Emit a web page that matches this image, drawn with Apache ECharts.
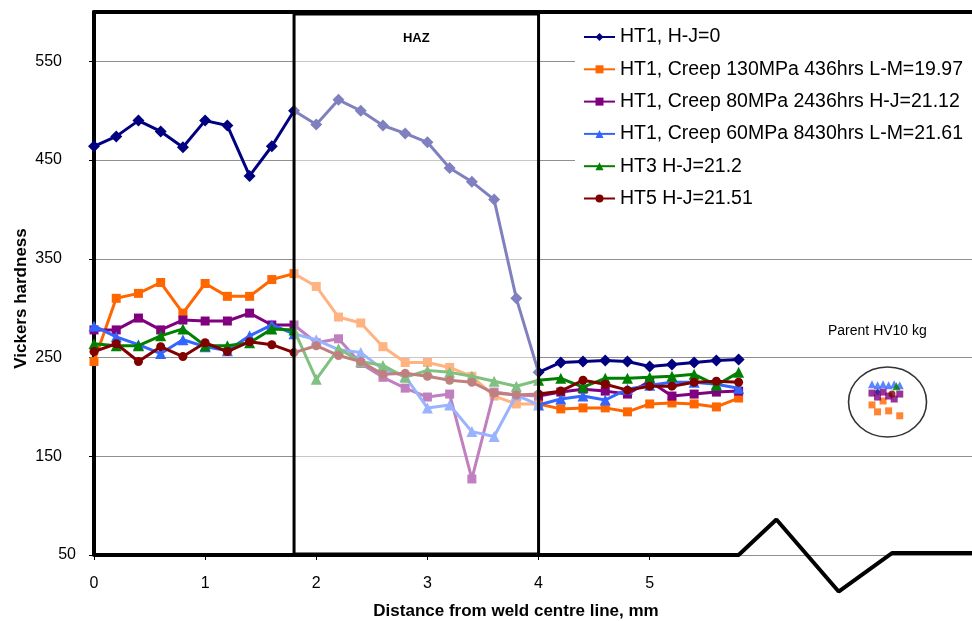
<!DOCTYPE html>
<html>
<head>
<meta charset="utf-8">
<script src="https://cdn.jsdelivr.net/npm/echarts@6/dist/echarts.min.js"></script>
<style>html,body{margin:0;padding:0;background:#fff;}#chart{width:972px;height:621px;}</style>
</head>
<body>
<div id="chart"></div>
<script>
// ---- data ----
const distance = [0,0.2,0.4,0.6,0.8,1,1.2,1.4,1.6,1.8,2,2.2,2.4,2.6,2.8,3,3.2,3.4,3.6,3.8,4,4.2,4.4,4.6,4.8,5,5.2,5.4,5.6,5.8];
const seriesNames = ['HT1, H-J=0','HT1, Creep 130MPa 436hrs L-M=19.97','HT1, Creep 80MPa 2436hrs H-J=21.12','HT1, Creep 60MPa 8430hrs L-M=21.61','HT3 H-J=21.2','HT5 H-J=21.51'];
const ht1_HJ0   = [464,474,490,479,463,490,485,434,464,500, 486,511,500,485,477,468,442,428,410,310, 235,245,246,247,246,241,243,245,247,248];
const ht1_130   = [246,310,315,326,295,325,312,312,329,335, 322,291,285,261,245,245,240,231,211,203, 203,198,199,199,195,203,204,203,200,209];
const ht1_80    = [278,278,290,278,288,287,287,295,283,283, 265,269,244,230,219,210,213,127,215,212, 211,215,218,216,213,226,211,213,215,216];
const ht1_60    = [282,271,263,254,268,261,257,272,283,274, 268,258,255,238,231,199,202,175,170,212, 202,208,211,207,218,222,225,225,223,219];
const ht3       = [264,262,262,272,279,262,262,265,279,278, 228,259,246,242,230,237,235,231,226,221, 227,229,220,229,229,230,231,233,222,235];
const ht5       = [256,264,246,261,251,265,256,266,263,255, 262,252,246,233,234,231,227,225,214,212, 213,216,227,223,217,221,221,225,226,225];
// parent metal readings (cluster on the right)
const parentX_HJ0 = [7.05];           const parent_HJ0 = [215];
const parentX_130 = [7.0,7.05,7.1,7.15,7.25]; const parent_130 = [202,195,206,196,191];
const parentX_80  = [7.0,7.05,7.1,7.15,7.2,7.25]; const parent_80 = [214,210,215,211,208,213];
const parentX_60  = [7.0,7.05,7.1,7.15,7.2,7.25]; const parent_60 = [223,222,223,222,223,222];
const parentX_ht3 = [7.22];           const parent_ht3 = [221];
const parentX_ht5 = [7.18];           const parent_ht5 = [213];
// annotations
const hazRange = [1.8, 4.0];
const hazVert = [51, 598];
const xTickValues = [0,1,2,3,4,5];
const yTickValues = [50,150,250,350,450,550];
const axisBreakPath = [[0,50],[5.8,50],[6.14,86],[6.7,13],[7.18,52],[7.9,52]];
const parentCircleCentre = [7.14, 205];

// ---- styles ----
const colors = ['#000080','#FF6600','#800080','#3366FF','#008000','#800000'];
const symbols = ['diamond','rect','rect','triangle','triangle','circle'];
const symSizes = [12,9,9,11,11,9];
const mainValues = [ht1_HJ0, ht1_130, ht1_80, ht1_60, ht3, ht5];
const parentXs = [parentX_HJ0, parentX_130, parentX_80, parentX_60, parentX_ht3, parentX_ht5];
const parentVals = [parent_HJ0, parent_130, parent_80, parent_60, parent_ht3, parent_ht5];
const FONT = 'Liberation Sans, Arial, Helvetica, sans-serif';

const series = [];
mainValues.forEach((vals, k) => {
  series.push({
    type: 'line', name: seriesNames[k],
    data: distance.map((x, i) => [x, vals[i]]),
    symbol: symbols[k], symbolSize: symSizes[k],
    lineStyle: { color: colors[k], width: 3 },
    itemStyle: { color: colors[k] },
    z: 3 + k * 0.01
  });
});
parentVals.forEach((vals, k) => {
  series.push({
    type: 'scatter', name: seriesNames[k],
    data: parentXs[k].map((x, i) => [x, vals[i]]),
    symbol: symbols[k], symbolSize: symbols[k] === 'triangle' ? 8 : 7,
    itemStyle: { color: colors[k] }, z: 3
  });
});
// HAZ overlay box (semi-transparent white wash over the lines)
series.push({
  type: 'custom', name: 'HAZ', z: 10, silent: true,
  data: [[hazRange[0], hazRange[1], hazVert[0], hazVert[1]]],
  encode: { x: [0, 1], y: [2, 3] },
  renderItem: function (params, api) {
    const p0 = api.coord([api.value(0), api.value(3)]);
    const p1 = api.coord([api.value(1), api.value(2)]);
    return {
      type: 'group',
      children: [
        { type: 'rect', shape: { x: p0[0], y: p0[1], width: p1[0] - p0[0], height: p1[1] - p0[1] },
          style: { fill: 'rgba(255,255,255,0.5)', stroke: '#000', lineWidth: 3 } },
        { type: 'text', style: { text: 'HAZ', x: (p0[0] + p1[0]) / 2, y: p0[1] + 24, align: 'center', verticalAlign: 'middle',
          font: 'bold 13px ' + FONT, fill: '#000' } }
      ]
    };
  }
});
// bottom axis with break symbol
series.push({
  type: 'line', name: 'axisBreak', data: axisBreakPath, symbol: 'none', clip: false, silent: true,
  lineStyle: { color: '#000', width: 4 }, z: 11
});
// circle around parent readings
series.push({
  type: 'scatter', name: 'parentCircle', data: [parentCircleCentre], symbol: 'circle', symbolSize: [78, 70],
  itemStyle: { color: 'rgba(0,0,0,0)', borderColor: '#000', borderWidth: 1.5 }, silent: true, z: 2
});

const chart = echarts.init(document.getElementById('chart'), null, { renderer: 'canvas' });
chart.setOption({
  animation: false,
  backgroundColor: '#fff',
  textStyle: { fontFamily: FONT },
  grid: { left: 94, right: 0, top: 12, bottom: 66, containLabel: false, outerBoundsMode: 'none' },
  legend: {
    data: seriesNames, orient: 'vertical', left: 575, top: 21,
    padding: [6, 16, 6, 8], itemGap: 12.3, itemWidth: 31, itemHeight: 10,
    backgroundColor: '#fff',
    textStyle: { fontSize: 19.5, color: '#000', fontFamily: FONT }
  },
  xAxis: [{
    type: 'value', min: 0, max: 7.9, position: 'bottom',
    axisLine: { show: false },
    axisTick: { show: true, customValues: xTickValues, length: 5, lineStyle: { color: '#000', width: 1 } },
    axisLabel: { customValues: xTickValues, margin: 21, fontSize: 16, color: '#000' },
    splitLine: { show: false },
    name: 'Distance from weld centre line, mm', nameLocation: 'middle', nameGap: 48, nameMoveOverlap: false,
    nameTextStyle: { fontWeight: 'bold', fontSize: 17, color: '#000', padding: [0, 34, 0, 0] }
  }, {
    type: 'value', min: 0, max: 7.9, position: 'top',
    axisLine: { show: true, lineStyle: { color: '#000', width: 4 } },
    axisTick: { show: false }, axisLabel: { show: false }, splitLine: { show: false }
  }],
  yAxis: {
    type: 'value', min: 50, max: 600, interval: 100,
    axisLine: { show: true, lineStyle: { color: '#000', width: 4 } },
    axisTick: { show: true, customValues: yTickValues, length: 5, lineStyle: { color: '#000', width: 1 } },
    axisLabel: {
      customValues: yTickValues, margin: 18, fontSize: 16, color: '#000',
      formatter: v => (v >= 100 ? '{w|' + v + '}' : '{n|' + v + '}'),
      rich: { w: { fontSize: 16, padding: [0, 14, 0, 0] }, n: { fontSize: 16 } }
    },
    splitLine: { show: true, lineStyle: { color: '#8f8f8f', width: 1 } },
    name: 'Vickers hardness', nameLocation: 'middle', nameGap: 64, nameMoveOverlap: false,
    nameTextStyle: { fontWeight: 'bold', fontSize: 17, color: '#000', padding: [0, 30, 0, 0] }
  },
  graphic: [{
    type: 'text', left: 828, top: 324,
    style: { text: 'Parent HV10 kg', font: '14px ' + FONT, fill: '#000' }
  }],
  series: series
});
</script>
</body>
</html>
